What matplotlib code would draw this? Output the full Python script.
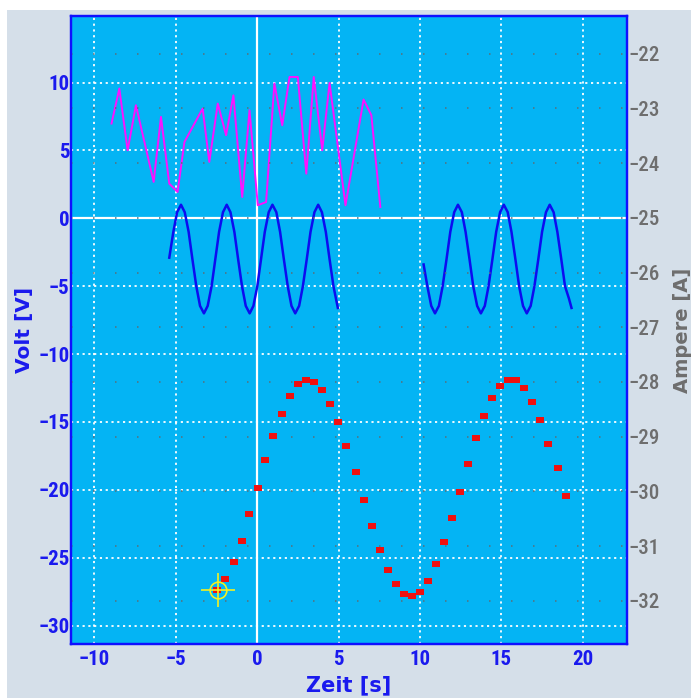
import matplotlib
matplotlib.use('Agg')
import matplotlib.pyplot as plt
from matplotlib.patches import Rectangle

# magenta signal (Volt)
mag_x = [-8.95, -8.47, -7.96, -7.45, -6.36, -5.91, -5.40, -4.89, -4.47, -3.35,
         -2.94, -2.42, -1.91, -1.46, -0.92, -0.47, 0.04, 0.55, 1.06, 1.54,
         1.99, 2.50, 3.02, 3.48, 4.00, 4.45, 5.43, 6.54, 7.02, 7.57]
mag_y = [6.98, 9.56, 5.01, 8.33, 2.68, 7.47, 2.55, 1.94, 5.62, 8.08,
         4.15, 8.45, 6.12, 9.06, 1.57, 7.96, 0.96, 1.20, 9.93, 6.85,
         10.41, 10.41, 3.29, 10.41, 5.01, 9.97, 0.96, 8.75, 7.59, 0.83]

# blue signal, first part (Volt)
blue1_x = [-5.40, -5.15, -4.92, -4.68, -4.45, -4.21, -3.98, -3.74, -3.51, -3.27,
           -3.04, -2.80, -2.57, -2.34, -2.10, -1.87, -1.64, -1.40, -1.17, -0.93,
           -0.70, -0.46, -0.23, 0.01, 0.24, 0.47, 0.71, 0.94, 1.18, 1.41,
           1.64, 1.88, 2.11, 2.34, 2.58, 2.81, 3.05, 3.28, 3.52, 3.75,
           3.98, 4.22, 4.45, 4.69, 4.96]
blue1_y = [-2.9, -1.0, 0.45, 1.0, 0.45, -1.0, -3.0, -5.0, -6.45, -7.0,
           -6.45, -5.0, -3.0, -1.0, 0.45, 1.0, 0.45, -1.0, -3.0, -5.0,
           -6.45, -7.0, -6.45, -5.0, -3.0, -1.0, 0.45, 1.0, 0.45, -1.0,
           -3.0, -5.0, -6.45, -7.0, -6.45, -5.0, -3.0, -1.0, 0.45, 1.0,
           0.45, -1.0, -3.0, -5.0, -6.6]

# blue signal, second part (Volt)
blue2_x = [10.23, 10.46, 10.70, 10.93, 11.17, 11.40, 11.64, 11.87, 12.11, 12.34,
           12.58, 12.81, 13.05, 13.28, 13.52, 13.75, 13.99, 14.22, 14.46, 14.69,
           14.93, 15.16, 15.40, 15.63, 15.87, 16.10, 16.34, 16.57, 16.81, 17.04,
           17.28, 17.51, 17.75, 17.98, 18.22, 18.45, 18.69, 18.92, 19.16, 19.32]
blue2_y = [-3.4, -5.0, -6.45, -7.0, -6.45, -5.0, -3.0, -1.0, 0.45, 1.0,
           0.45, -1.0, -3.0, -5.0, -6.45, -7.0, -6.45, -5.0, -3.0, -1.0,
           0.45, 1.0, 0.45, -1.0, -3.0, -5.0, -6.45, -7.0, -6.45, -5.0,
           -3.0, -1.0, 0.45, 1.0, 0.45, -1.0, -3.0, -5.0, -5.9, -6.6]

# red samples (Ampere)
red_x = [-2.44, -1.95, -1.44, -0.95, -0.47, 0.04, 0.51, 1.00, 1.50, 1.99,
         2.50, 2.99, 3.48, 3.98, 4.47, 4.96, 5.45, 6.07, 6.56, 7.05,
         7.55, 8.04, 8.53, 9.02, 9.51, 10.01, 10.50, 10.99, 11.48, 11.98,
         12.47, 12.96, 13.45, 13.94, 14.44, 14.93, 15.42, 15.91, 16.41, 16.90,
         17.39, 17.88, 18.50, 18.99]
red_y = [-31.80, -31.60, -31.30, -30.90, -30.42, -29.94, -29.43, -28.99, -28.59, -28.26,
         -28.04, -27.97, -28.00, -28.15, -28.41, -28.74, -29.17, -29.65, -30.16, -30.64,
         -31.08, -31.44, -31.70, -31.88, -31.92, -31.84, -31.63, -31.33, -30.93, -30.49,
         -30.01, -29.50, -29.03, -28.63, -28.30, -28.08, -27.97, -27.97, -28.11, -28.37,
         -28.70, -29.14, -29.58, -30.09]

cursor_x = -2.42
cursor_y = -31.80

x_ticks = [-10, -5, 0, 5, 10, 15, 20]
volt_ticks = [-30, -25, -20, -15, -10, -5, 0, 5, 10]
amp_ticks = [-22, -23, -24, -25, -26, -27, -28, -29, -30, -31, -32]

tick_font = ['Roboto Condensed', 'DejaVu Sans']
label_font = ['DejaVu Sans']
blue = '#1a1aee'
grey = '#6e6e6e'
bg = '#d5dfe9'
face = '#04b4f4'

fig = plt.figure(figsize=(6.91, 6.98), dpi=100, facecolor='white')
fig.patches.append(Rectangle((7/691, 0), 1, 1 - 10/698, transform=fig.transFigure,
                             facecolor=bg, edgecolor='none', zorder=-10))

W, H = 691, 698
ax = fig.add_axes([71/W, (H-644)/H, 556/W, 628/H])
ax.set_facecolor(face)
ax.set_xlim(-11.44, 22.73)
ax.set_ylim(-31.35, 14.9)
ax.set_xticks(x_ticks)
ax.set_yticks(volt_ticks)
ax.grid(True, color='white', linewidth=1.3, linestyle=(0, (1.2, 2.0)))
ax.set_axisbelow(True)
ax.axhline(0, color='white', linewidth=1.6, zorder=1)
ax.axvline(0, color='white', linewidth=1.6, zorder=1)

ax.plot(mag_x, mag_y, color='#ff10ff', linewidth=1.4, zorder=3)
ax.plot(blue1_x, blue1_y, color='#0c0cf0', linewidth=1.8, zorder=3)
ax.plot(blue2_x, blue2_y, color='#0c0cf0', linewidth=1.8, zorder=3)

ax.tick_params(axis='both', length=0, labelcolor=blue, labelsize=15)
ax.tick_params(axis='x', pad=4)
ax.tick_params(axis='y', pad=1)
for lab in ax.get_xticklabels() + ax.get_yticklabels():
    lab.set_family(tick_font)
    lab.set_fontweight('bold')

ax.set_xlabel('Zeit [s]', color=blue, fontsize=15, fontweight='bold', family=label_font)
ax.set_ylabel('Volt [V]', color=blue, fontsize=14.5, fontweight='bold', family=label_font)
ax.xaxis.set_label_coords(0.5, -0.066)
ax.xaxis.label.set_va('center')
ax.yaxis.set_label_coords(-0.084, 0.5)
ax.yaxis.label.set_va('center')

ax2 = ax.twinx()
ax2.set_ylim(-32.79, -21.31)
ax2.set_yticks(amp_ticks)
ax2.grid(True, axis='y', color='#5a6e78', linewidth=1.1, linestyle=(0, (1, 13.4)))
ax2.tick_params(axis='y', length=0, pad=1, labelcolor=grey, labelsize=15)
for lab in ax2.get_yticklabels():
    lab.set_family(tick_font)
    lab.set_fontweight('medium')
ax2.set_ylabel('Ampere [A]', color=grey, fontsize=14, fontweight='bold', family=label_font,
               rotation=90)
ax2.yaxis.set_label_coords(1.1, 0.5)
ax2.yaxis.label.set_va('center')

rect = [(-1, -0.7), (1, -0.7), (1, 0.7), (-1, 0.7), (-1, -0.7)]
ax2.plot(red_x, red_y, linestyle='none', marker=rect, markersize=5.2,
         color='#f01010', markeredgewidth=0, zorder=4)
ax2.plot([cursor_x], [cursor_y], marker='o', markersize=12, fillstyle='none',
         markeredgecolor='#f4f020', markeredgewidth=1.2, linestyle='none', zorder=5)
ax2.plot([cursor_x], [cursor_y], marker='+', markersize=25,
         markeredgecolor='#f4f020', markeredgewidth=1.2, linestyle='none', zorder=5)

for a in (ax, ax2):
    for s in a.spines.values():
        s.set_color('#1010ff')
        s.set_linewidth(1.6)

fig.savefig('out.png', dpi=100, facecolor=fig.get_facecolor())
